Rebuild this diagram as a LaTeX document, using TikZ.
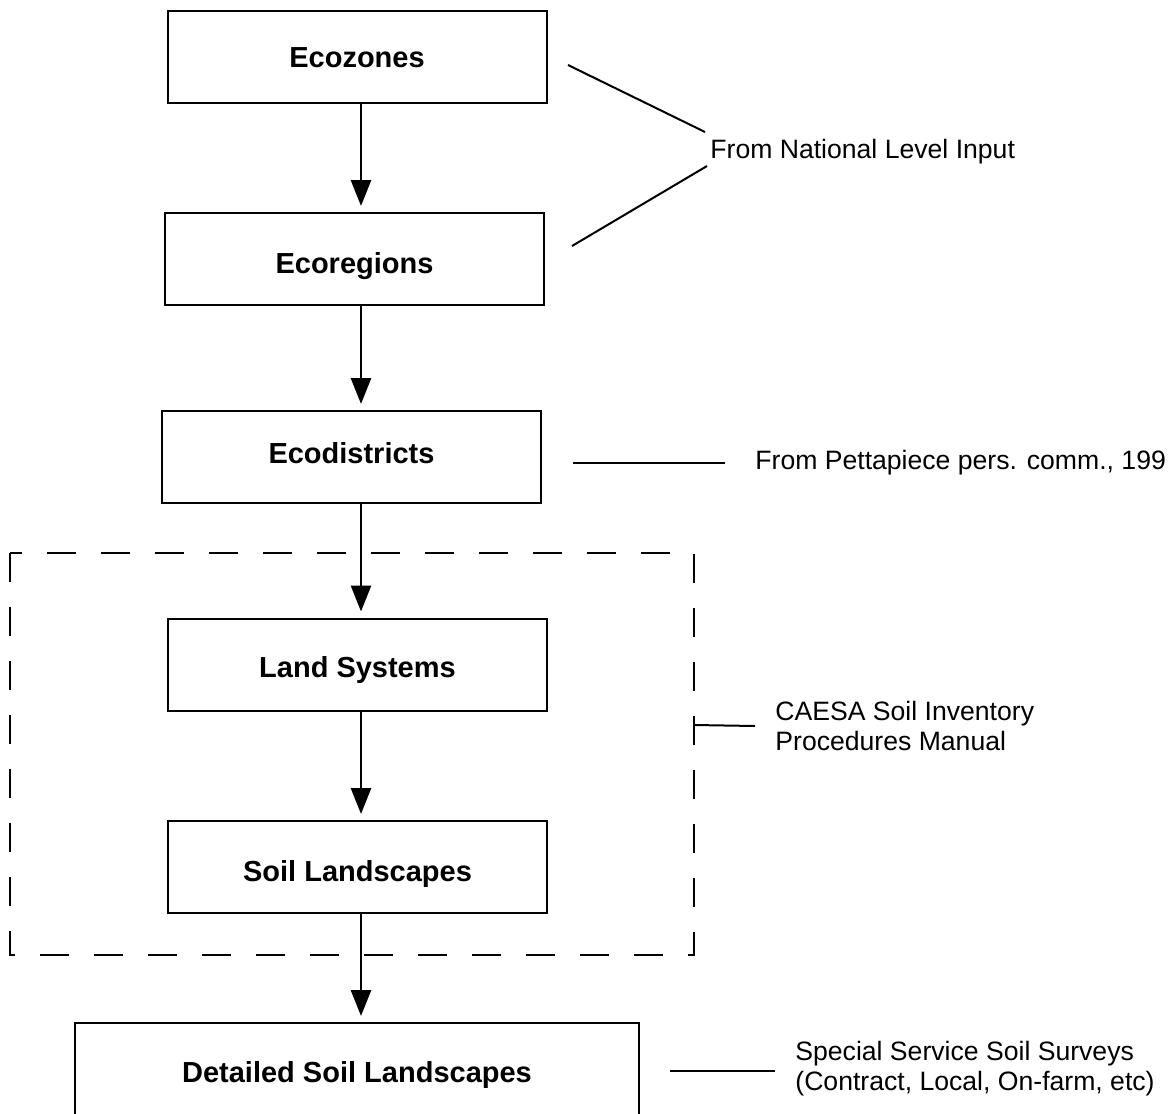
\documentclass[tikz,border=0pt]{standalone}
\usepackage{fontspec}
\setmainfont{Liberation Sans}
\usepackage{tikz}
\usetikzlibrary{positioning, arrows.meta}

\begin{document}
\begin{tikzpicture}[x=0.5pt, y=-0.5pt,
    levelbox/.style={draw, line width=1pt, minimum width=189.5pt, minimum height=46pt,
      font=\fontsize{14.5}{17}\selectfont\bfseries, inner sep=0pt,
      text height=10.5pt, text depth=3pt},
    note/.style={anchor=west, align=left, inner sep=0pt, font=\fontsize{13.3}{15}\selectfont},
    arr/.style={-{Triangle[width=10pt, length=13pt]}, line width=1.4pt, shorten >=3pt},
    link/.style={line width=1pt}]
  \useasboundingbox (0,0) rectangle (1169,1114);
  % hierarchy of levels
  \node[levelbox] (zones) at (357,57) {\raisebox{-1.5pt}{Ecozones}};
  \node[levelbox] (regions) at (354.5,259) {\raisebox{-3.5pt}{Ecoregions}};
  \node[levelbox] (districts) at (351.5,457) {\raisebox{0.5pt}{Ecodistricts}};
  \node[levelbox] (landsys) at (357.5,664.5) {\raisebox{-2.5pt}{Land Systems}};
  \node[levelbox] (soilland) at (357.5,867) {\raisebox{-3.5pt}{Soil Landscapes}};
  \node[levelbox, minimum width=282pt, minimum height=51pt] (detailed) at (357,1074) {\raisebox{-0.5pt}{Detailed Soil Landscapes}};
  \coordinate (ax) at (361,0);
  \draw[arr] (zones.south -| ax) -- (regions.north -| ax);
  \draw[arr] (regions.south -| ax) -- (districts.north -| ax);
  \draw[arr] (districts.south -| ax) -- (landsys.north -| ax);
  \draw[arr] (landsys.south -| ax) -- (soilland.north -| ax);
  \draw[arr] (soilland.south -| ax) -- (detailed.north -| ax);
  % CAESA group
  \draw[line width=1pt, dash pattern=on 14.5pt off 12.5pt] (10,553) rectangle (694,955);
  % sources
  \node[note] (national) at (710,152) {From National Level Input};
  \coordinate (natA) at (568,65);  \coordinate (natB) at (705,132);
  \coordinate (natC) at (572,246); \coordinate (natD) at (707,166);
  \draw[link] (natA) -- (natB);
  \draw[link] (natC) -- (natD);
  \node[note] (petta) at (755,463) {From Pettapiece pers. comm., 199};
  \coordinate (petA) at (573,463);
  \draw[link] (petA) -- ([xshift=-15pt]petta.west);
  \node[note] (caesa) at (775,726) {CAESA Soil Inventory\\Procedures Manual};
  \coordinate (caeA) at (694,725);
  \draw[link] (caeA) -- ([xshift=-10pt]caesa.west);
  \node[note] (special) at (795,1068.5) {Special Service Soil Surveys\\(Contract, Local, On-farm, etc)};
  \coordinate (speA) at (670,1071);
  \draw[link] (speA) -- ([xshift=-10pt, yshift=-1.25pt]special.west);
\end{tikzpicture}
\end{document}
